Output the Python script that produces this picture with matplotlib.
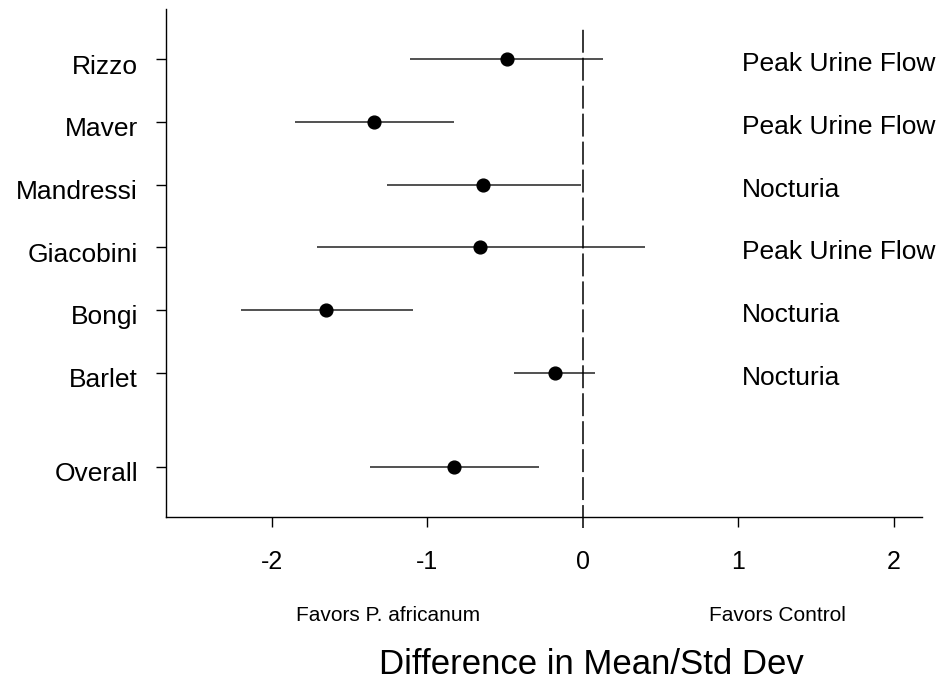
import numpy as np
import matplotlib.pyplot as plt
import matplotlib.transforms as mtrans

plt.rcParams['font.family'] = ['Liberation Sans', 'DejaVu Sans']

studies = ["Rizzo", "Maver", "Mandressi", "Giacobini", "Bongi", "Barlet", "Overall"]
ypos = [7, 6, 5, 4, 3, 2, 0.5]
effect = [-0.49, -1.34, -0.64, -0.66, -1.65, -0.18, -0.83]
ci_low = [-1.11, -1.85, -1.26, -1.71, -2.20, -0.44, -1.37]
ci_high = [0.13, -0.83, -0.01, 0.40, -1.09, 0.08, -0.28]
outcomes = ["Peak Urine Flow", "Peak Urine Flow", "Nocturia", "Peak Urine Flow", "Nocturia", "Nocturia", ""]

fig = plt.figure(figsize=(9.49, 6.97), dpi=100)
ax = fig.add_axes([0.1749, 0.2578, 0.7966, 0.7293])

# small downward nudge, labels sit a bit under their tick in the original
nudge = mtrans.ScaledTranslation(0, -0.05, fig.dpi_scale_trans)

# confidence intervals + point estimates
ax.hlines(ypos, ci_low, ci_high, color='#222222', lw=1.1)
ax.plot(effect, ypos, 'o', color='black', ms=9.2)

# no-effect line
ax.plot([0, 0], [-0.47, 7.5], color='black', lw=1.1, ls=(0, (15, 3.3)), clip_on=False)

for y, txt in zip(ypos, outcomes):
    ax.text(1.02, y, txt, fontsize=19, ha='left', va='center', transform=ax.transData + nudge)

ax.set_xlim(-2.68, 2.18)
ax.set_ylim(-0.307, 7.8)
ax.set_xticks([-2, -1, 0, 1, 2])
ax.set_xticklabels(["-2", "-1", "0", "1", "2"])
ax.set_yticks(ypos)
ax.set_yticklabels(studies)
ax.tick_params(axis='y', labelsize=19, length=7.2, width=1.0, pad=13)
ax.tick_params(axis='x', labelsize=18, length=7.2, width=1.0, pad=16)
ax.xaxis.get_major_ticks()[2].tick1line.set_visible(False)
for lab in ax.get_yticklabels():
    lab.set_transform(lab.get_transform() + nudge)

ax.spines['top'].set_visible(False)
ax.spines['right'].set_visible(False)
ax.spines['left'].set_linewidth(1.0)
ax.spines['bottom'].set_linewidth(1.0)

trans = mtrans.blended_transform_factory(ax.transData, fig.transFigure)
ax.text(-1.25, 0.1176, "Favors P. africanum", fontsize=15, ha='center', va='center', transform=trans)
ax.text(1.25, 0.1176, "Favors Control", fontsize=15, ha='center', va='center', transform=trans)
fig.text(0.623, 0.046, "Difference in Mean/Std Dev", fontsize=25, ha='center', va='center')

plt.savefig("out.png", dpi=100)
